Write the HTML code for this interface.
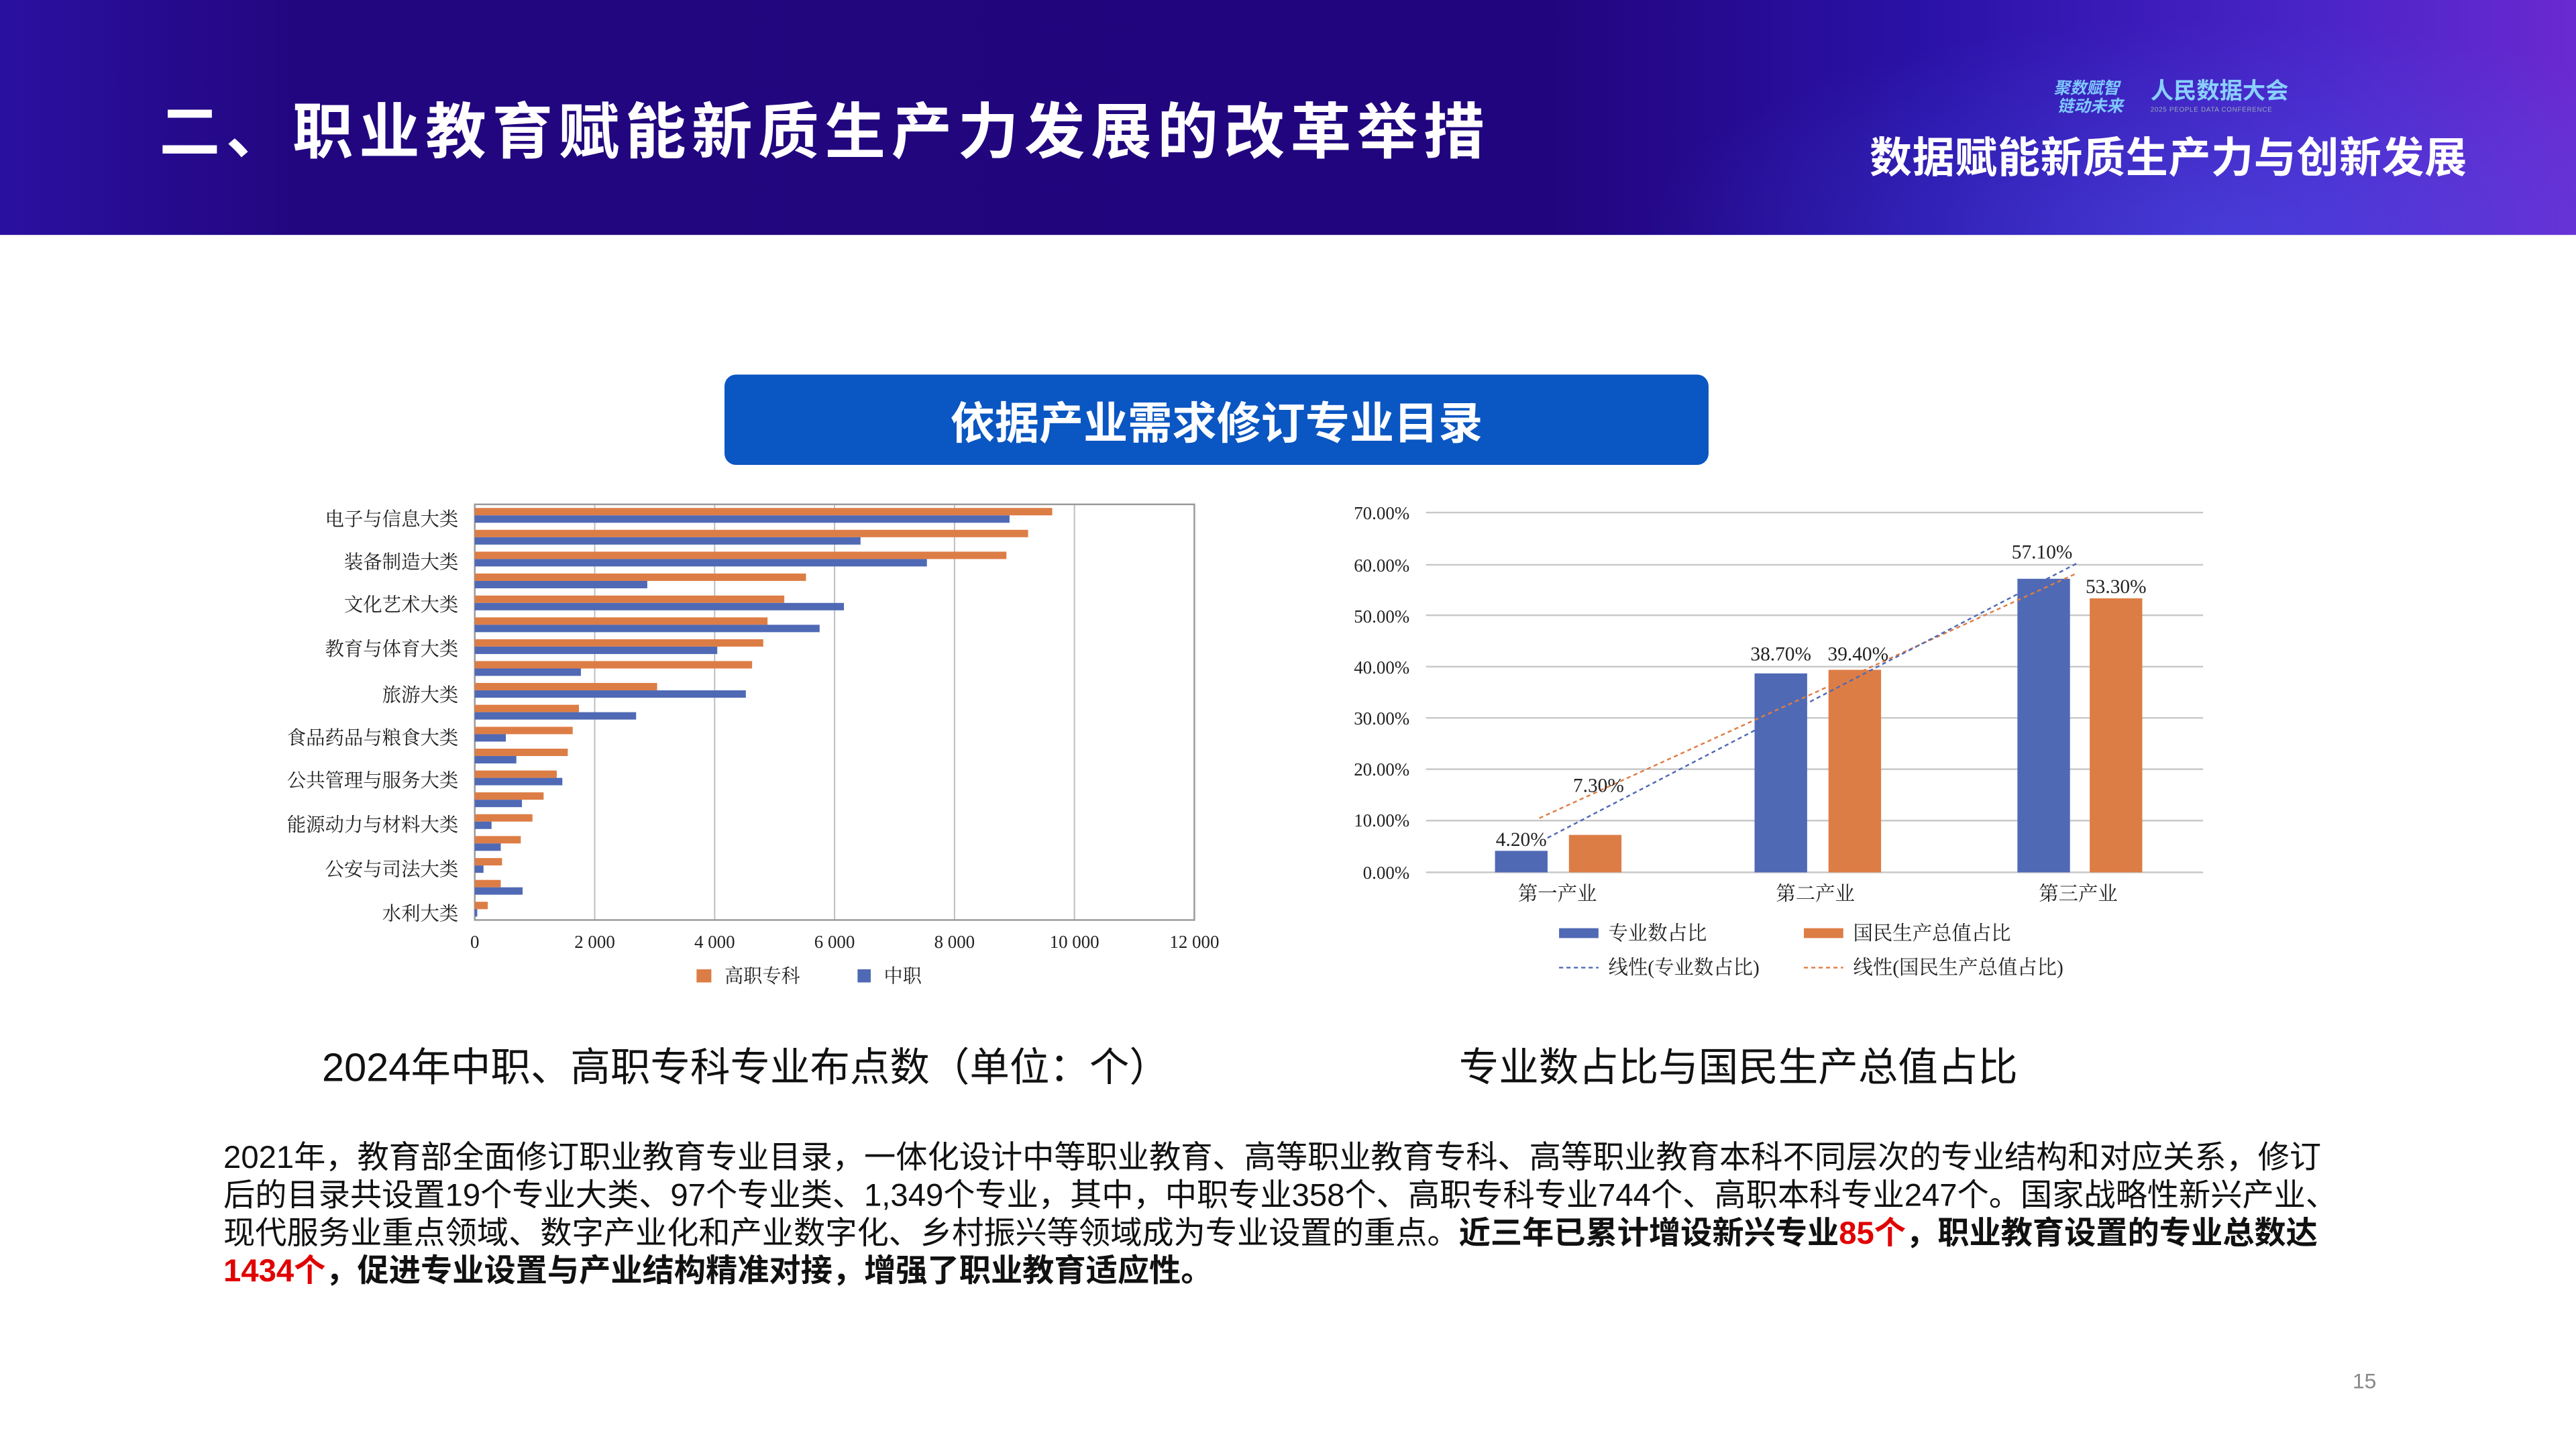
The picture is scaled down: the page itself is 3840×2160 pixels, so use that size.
<!DOCTYPE html>
<html><head><meta charset="utf-8">
<style>
html,body{margin:0;padding:0;background:#fff;}
body{width:3840px;height:2160px;overflow:hidden;position:relative;}
#s{position:absolute;left:0;top:0;width:1568px;height:882px;transform:scale(2.44898);transform-origin:0 0;font-family:"Liberation Sans","Noto Sans CJK SC",sans-serif;}
.hdr{position:absolute;left:0;top:0;width:1568px;height:143px;background:linear-gradient(90deg,#2a10a0 0%,#22067f 12%,#21057e 60%,#2b12a8 75%,#4a24c8 90%,#6a2ad0 100%);overflow:hidden;}
.wave{position:absolute;left:1000px;top:10px;width:700px;height:260px;border-radius:50%;background:radial-gradient(ellipse at center,rgba(80,110,255,0.35),rgba(80,110,255,0) 70%);}
.t1{position:absolute;left:97px;top:53px;font-size:37px;font-weight:bold;color:#fff;letter-spacing:3.5px;white-space:nowrap;font-family:"Noto Sans CJK SC",sans-serif;line-height:48px;}
.t2{position:absolute;left:1138px;top:78px;font-size:25.7px;font-weight:bold;color:#fff;white-space:nowrap;font-family:"Noto Sans CJK SC",sans-serif;line-height:34px;letter-spacing:0.3px;}
.logo1{position:absolute;left:1250px;top:47px;font-size:10px;line-height:11px;color:#7fc8ff;font-weight:bold;font-style:italic;font-family:"Noto Sans CJK SC",sans-serif;}
.logo2{position:absolute;left:1309px;top:46px;font-size:14px;color:#8ad0ff;font-weight:bold;font-family:"Noto Sans CJK SC",sans-serif;line-height:18px;}
.logo3{position:absolute;left:1309px;top:64px;font-size:4px;color:#9ab;letter-spacing:0.3px;}
.ban{position:absolute;left:441px;top:228px;width:599px;height:55px;background:#0a56c2;border-radius:7px;color:#fff;font-size:27px;font-weight:bold;text-align:center;line-height:55px;font-family:"Noto Sans CJK SC",sans-serif;}
.cap{position:absolute;font-size:24.3px;color:#111;white-space:nowrap;line-height:30px;}
.p{position:absolute;left:136px;top:694px;font-size:19.3px;line-height:23px;color:#111;white-space:nowrap;}
.p b{font-weight:bold;}
.r{color:#e00000;font-weight:bold;}
.pn{position:absolute;left:1432px;top:833px;font-size:13px;color:#888;}
svg text{font-family:"Liberation Serif","Noto Serif CJK SC",serif;}
</style></head><body><div id="s">
<div class="hdr"><div class="wave"></div>
<div class="t1">二、职业教育赋能新质生产力发展的改革举措</div>
<div class="logo1">聚数赋智<br>&nbsp;链动未来</div>
<div class="logo2">人民数据大会</div>
<div class="logo3">2025 PEOPLE DATA CONFERENCE</div>
<div class="t2">数据赋能新质生产力与创新发展</div>
</div>
<div class="ban">依据产业需求修订专业目录</div>

<svg style="position:absolute;left:0;top:0" width="1568" height="882">
<g stroke="#bdbdbd" stroke-width="0.8">
<line x1="362" y1="307" x2="362" y2="560"/><line x1="435" y1="307" x2="435" y2="560"/><line x1="508" y1="307" x2="508" y2="560"/><line x1="581" y1="307" x2="581" y2="560"/><line x1="654" y1="307" x2="654" y2="560"/>
</g>
<rect x="289" y="307" width="438" height="253" fill="none" stroke="#999" stroke-width="1"/>
<g fill="#dd7d46">
<rect x="289" y="309.2" width="351.5" height="4.5"/><rect x="289" y="322.5" width="336.8" height="4.5"/><rect x="289" y="335.8" width="323.6" height="4.5"/><rect x="289" y="349.1" width="201.6" height="4.5"/><rect x="289" y="362.5" width="188.4" height="4.5"/><rect x="289" y="375.8" width="178.2" height="4.5"/><rect x="289" y="389.1" width="175.6" height="4.5"/><rect x="289" y="402.4" width="168.8" height="4.5"/><rect x="289" y="415.7" width="111" height="4.5"/><rect x="289" y="429" width="63.4" height="4.5"/><rect x="289" y="442.4" width="59.6" height="4.5"/><rect x="289" y="455.7" width="56.6" height="4.5"/><rect x="289" y="469" width="49.9" height="4.5"/><rect x="289" y="482.3" width="41.9" height="4.5"/><rect x="289" y="495.6" width="35.1" height="4.5"/><rect x="289" y="508.9" width="28" height="4.5"/><rect x="289" y="522.3" width="16.6" height="4.5"/><rect x="289" y="535.6" width="15.8" height="4.5"/><rect x="289" y="548.9" width="7.9" height="4.5"/>
</g>
<g fill="#4f69b5">
<rect x="289" y="313.7" width="325.5" height="4.5"/><rect x="289" y="327" width="234.8" height="4.5"/><rect x="289" y="340.3" width="275.2" height="4.5"/><rect x="289" y="353.6" width="105" height="4.5"/><rect x="289" y="367" width="224.7" height="4.5"/><rect x="289" y="380.3" width="209.9" height="4.5"/><rect x="289" y="393.6" width="147.6" height="4.5"/><rect x="289" y="406.9" width="64.6" height="4.5"/><rect x="289" y="420.2" width="165" height="4.5"/><rect x="289" y="433.5" width="98.2" height="4.5"/><rect x="289" y="446.9" width="18.9" height="4.5"/><rect x="289" y="460.2" width="25.3" height="4.5"/><rect x="289" y="473.5" width="53.3" height="4.5"/><rect x="289" y="486.8" width="28.7" height="4.5"/><rect x="289" y="500.1" width="10.2" height="4.5"/><rect x="289" y="513.4" width="15.8" height="4.5"/><rect x="289" y="526.8" width="5.3" height="4.5"/><rect x="289" y="540.1" width="29.1" height="4.5"/><rect x="289" y="553.4" width="1.5" height="4.5"/>
</g>
<g font-size="11.6" fill="#222" text-anchor="end">
<text x="279" y="320">电子与信息大类</text><text x="279" y="346">装备制造大类</text><text x="279" y="372">文化艺术大类</text><text x="279" y="399">教育与体育大类</text><text x="279" y="427">旅游大类</text><text x="279" y="453">食品药品与粮食大类</text><text x="279" y="479">公共管理与服务大类</text><text x="279" y="506">能源动力与材料大类</text><text x="279" y="533">公安与司法大类</text><text x="279" y="560">水利大类</text>
</g>
<g font-size="11" fill="#222" text-anchor="middle">
<text x="289" y="577">0</text><text x="362" y="577">2 000</text><text x="435" y="577">4 000</text><text x="508" y="577">6 000</text><text x="581" y="577">8 000</text><text x="654" y="577">10 000</text><text x="727" y="577">12 000</text>
</g>
<rect x="424" y="590" width="9" height="8" fill="#dd7d46"/><text x="441" y="598" font-size="11.5" fill="#222">高职专科</text>
<rect x="522" y="590" width="8" height="8" fill="#4f69b5"/><text x="538" y="598" font-size="11.5" fill="#222">中职</text>

<g stroke="#c8c8c8" stroke-width="1">
<line x1="868" y1="312" x2="1341" y2="312"/><line x1="868" y1="343.8" x2="1341" y2="343.8"/><line x1="868" y1="374.5" x2="1341" y2="374.5"/><line x1="868" y1="405.8" x2="1341" y2="405.8"/><line x1="868" y1="437" x2="1341" y2="437"/><line x1="868" y1="468.2" x2="1341" y2="468.2"/><line x1="868" y1="499.5" x2="1341" y2="499.5"/><line x1="868" y1="531" x2="1341" y2="531"/>
</g>
<g font-size="11" fill="#222" text-anchor="end">
<text x="858" y="316">70.00%</text><text x="858" y="348">60.00%</text><text x="858" y="379">50.00%</text><text x="858" y="410">40.00%</text><text x="858" y="441">30.00%</text><text x="858" y="472">20.00%</text><text x="858" y="503">10.00%</text><text x="858" y="535">0.00%</text>
</g>
<g fill="#4f69b5"><rect x="910" y="517.9" width="32" height="13.1"/><rect x="1068" y="409.9" width="32" height="121.1"/><rect x="1228" y="352.3" width="32" height="178.7"/></g>
<g fill="#dd7d46"><rect x="955" y="508.2" width="32" height="22.8"/><rect x="1113" y="407.7" width="32" height="123.3"/><rect x="1272" y="364.2" width="32" height="166.8"/></g>
<line x1="937" y1="498" x2="1264" y2="349" stroke="#dd7d46" stroke-width="1" stroke-dasharray="2.5,2"/>
<line x1="942" y1="510" x2="1264" y2="343" stroke="#4f69b5" stroke-width="1" stroke-dasharray="2.5,2"/>
<g font-size="12" fill="#222" text-anchor="middle">
<text x="926" y="515">4.20%</text><text x="973" y="482">7.30%</text><text x="1084" y="402">38.70%</text><text x="1131" y="402">39.40%</text><text x="1243" y="340">57.10%</text><text x="1288" y="361">53.30%</text>
<text x="948" y="548">第一产业</text><text x="1105" y="548">第二产业</text><text x="1265" y="548">第三产业</text>
</g>
<rect x="949" y="565" width="24" height="6" fill="#4f69b5"/><text x="979" y="572" font-size="12" fill="#222">专业数占比</text>
<rect x="1098" y="565" width="24" height="6" fill="#dd7d46"/><text x="1128" y="572" font-size="12" fill="#222">国民生产总值占比</text>
<line x1="949" y1="589" x2="973" y2="589" stroke="#4f69b5" stroke-width="1" stroke-dasharray="2.5,2"/><text x="979" y="593" font-size="12" fill="#222">线性(专业数占比)</text>
<line x1="1098" y1="589" x2="1122" y2="589" stroke="#dd7d46" stroke-width="1" stroke-dasharray="2.5,2"/><text x="1128" y="593" font-size="12" fill="#222">线性(国民生产总值占比)</text>
</svg>

<div class="cap" style="left:196px;top:636px;">2024年中职、高职专科专业布点数（单位：个）</div>
<div class="cap" style="left:888px;top:636px;">专业数占比与国民生产总值占比</div>
<div class="p">2021年，教育部全面修订职业教育专业目录，一体化设计中等职业教育、高等职业教育专科、高等职业教育本科不同层次的专业结构和对应关系，修订<br>后的目录共设置19个专业大类、97个专业类、1,349个专业，其中，中职专业358个、高职专科专业744个、高职本科专业247个。国家战略性新兴产业、<br>现代服务业重点领域、数字产业化和产业数字化、乡村振兴等领域成为专业设置的重点。<b>近三年已累计增设新兴专业</b><span class="r">85个</span><b>，职业教育设置的专业总数达</b><br><span class="r">1434个</span><b>，促进专业设置与产业结构精准对接，增强了职业教育适应性。</b></div>
<div class="pn">15</div>
</div></body></html>
